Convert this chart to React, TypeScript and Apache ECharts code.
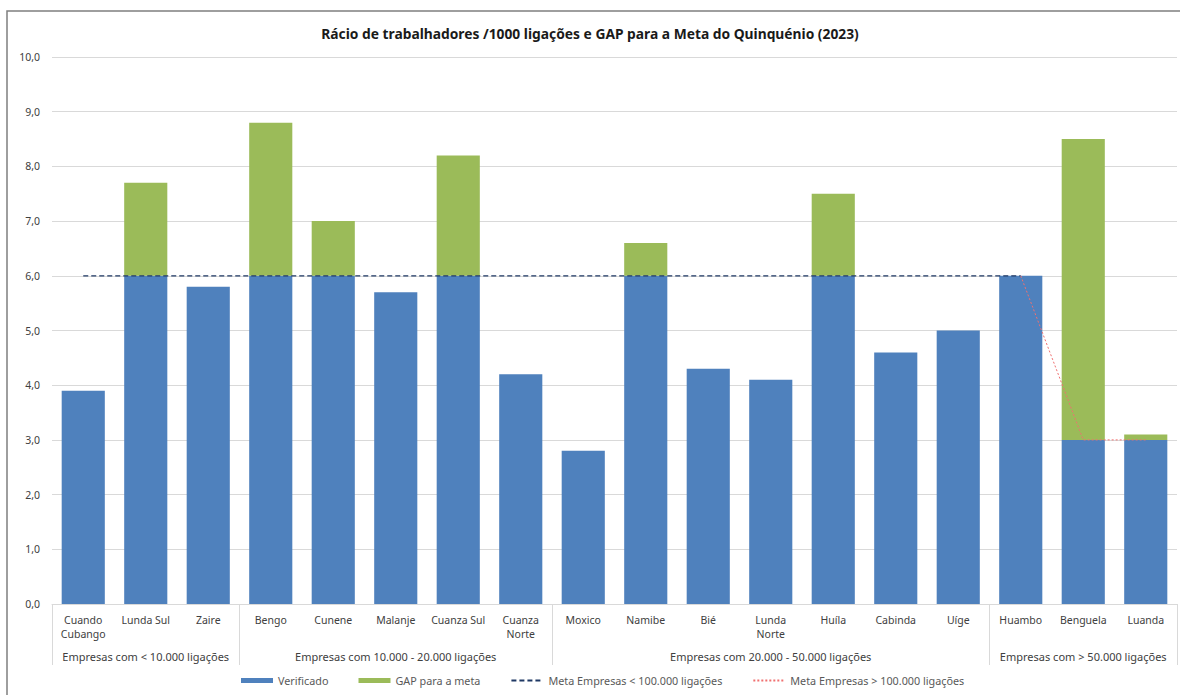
import React, { useEffect, useRef } from "react";
import * as echarts from "echarts";

const categories = [
  "Cuando\nCubango", "Lunda Sul", "Zaire",
  "Bengo", "Cunene", "Malanje", "Cuanza Sul", "Cuanza\nNorte",
  "Moxico", "Namibe", "Bié", "Lunda\nNorte", "Huíla", "Cabinda", "Uíge",
  "Huambo", "Benguela", "Luanda",
];
const verificado = [3.9, 6.0, 5.8, 6.0, 6.0, 5.7, 6.0, 4.2, 2.8, 6.0, 4.3, 4.1, 6.0, 4.6, 5.0, 6.0, 3.0, 3.0];
const gap = [0, 1.7, 0, 2.8, 1.0, 0, 2.2, 0, 0, 0.6, 0, 0, 1.5, 0, 0, 0, 5.5, 0.1];
const metaMenor = [6, 6, 6, 6, 6, 6, 6, 6, 6, 6, 6, 6, 6, 6, 6, 6, null, null];
const metaMaior = [null, null, null, null, null, null, null, null, null, null, null, null, null, null, null, 6, 3, 3];
const groupNames = [
  "Empresas com < 10.000 ligações",
  "Empresas com 10.000 - 20.000 ligações",
  "Empresas com 20.000 - 50.000 ligações",
  "Empresas com > 50.000 ligações",
];
const groupSizes = [3, 5, 7, 3];
const yTicks = [0, 1, 2, 3, 4, 5, 6, 7, 8, 9, 10];

export default function App() {
  const ref = useRef<HTMLDivElement>(null);
  useEffect(() => {
    if (!ref.current) return;
    const chart = echarts.init(ref.current, null, { renderer: "svg" });
    const groupAxisData: string[] = [];
    const boundaries: number[] = [];
    let start = 0;
    groupSizes.forEach((n, gi) => {
      boundaries.push(start);
      for (let k = 0; k < n; k++) {
        groupAxisData.push(k === Math.floor(n / 2) ? groupNames[gi] : "");
      }
      start += n;
    });
    const font = "'Noto Sans', sans-serif";
    chart.setOption({
      animation: false,
      title: {
        text: "Rácio de trabalhadores /1000 ligações e GAP para a Meta do Quinquénio (2023)",
        left: "center",
        top: 21,
        textStyle: { fontFamily: font, fontSize: 13.8, fontWeight: "bold", color: "#1a1a1a" },
      },
      graphic: [
        {
          type: "rect",
          shape: { x: 7, y: 11, width: 1190, height: 700 },
          style: { fill: "none", stroke: "#7f7f7f", lineWidth: 1.5 },
          silent: true,
        },
      ],
      legend: {
        bottom: 4,
        left: 236,
        itemWidth: 32,
        itemHeight: 5,
        itemGap: 30,
        textStyle: { fontFamily: font, fontSize: 10.8, color: "#595959" },
        data: [
          { name: "Verificado", icon: "rect" },
          { name: "GAP para a meta", icon: "rect" },
          { name: "Meta Empresas < 100.000 ligações" },
          { name: "Meta Empresas > 100.000 ligações" },
        ],
      },
      grid: { left: 52, right: 3, top: 57, bottom: 91 },
      xAxis: [
        {
          type: "category",
          data: categories,
          position: "bottom",
          axisLine: { lineStyle: { color: "#d9d9d9" } },
          axisTick: {
            show: true,
            length: 61,
            interval: (i: number) => boundaries.includes(i),
            lineStyle: { color: "#d9d9d9" },
          },
          axisLabel: {
            interval: 0,
            margin: 9,
            fontFamily: font,
            fontSize: 10.5,
            color: "#404040",
            lineHeight: 14,
          },
        },
        {
          type: "category",
          data: groupAxisData,
          position: "bottom",
          axisLine: { show: false },
          axisTick: { show: false },
          axisLabel: {
            interval: 0,
            margin: 47,
            fontFamily: font,
            fontSize: 11,
            color: "#404040",
          },
        },
      ],
      yAxis: {
        type: "value",
        min: yTicks[0],
        max: yTicks[yTicks.length - 1],
        interval: 1,
        axisLine: { show: false },
        axisTick: { show: false },
        splitLine: { lineStyle: { color: "#d9d9d9" } },
        axisLabel: {
          margin: 12,
          fontFamily: font,
          fontSize: 10.5,
          color: "#404040",
          formatter: (v: number) => v.toFixed(1).replace(".", ","),
        },
      },
      series: [
        {
          name: "Verificado",
          type: "bar",
          stack: "total",
          data: verificado,
          barCategoryGap: "31%",
          itemStyle: { color: "#4f81bd" },
        },
        {
          name: "GAP para a meta",
          type: "bar",
          stack: "total",
          data: gap,
          itemStyle: { color: "#9bbb59" },
        },
        {
          name: "Meta Empresas < 100.000 ligações",
          type: "line",
          data: metaMenor,
          symbol: "none",
          lineStyle: { color: "#1f3864", width: 1.3, type: [5, 3] },
          itemStyle: { color: "#1f3864", opacity: 0 },
        },
        {
          name: "Meta Empresas > 100.000 ligações",
          type: "line",
          data: metaMaior,
          symbol: "none",
          lineStyle: { color: "#f07070", width: 1, type: [2, 2] },
          itemStyle: { color: "#f07070", opacity: 0 },
        },
      ],
    });
    return () => chart.dispose();
  }, []);
  return (
    <div
      ref={ref}
      style={{ position: "fixed", left: 0, top: 0, width: 1180, height: 695, background: "#fff" }}
    />
  );
}
